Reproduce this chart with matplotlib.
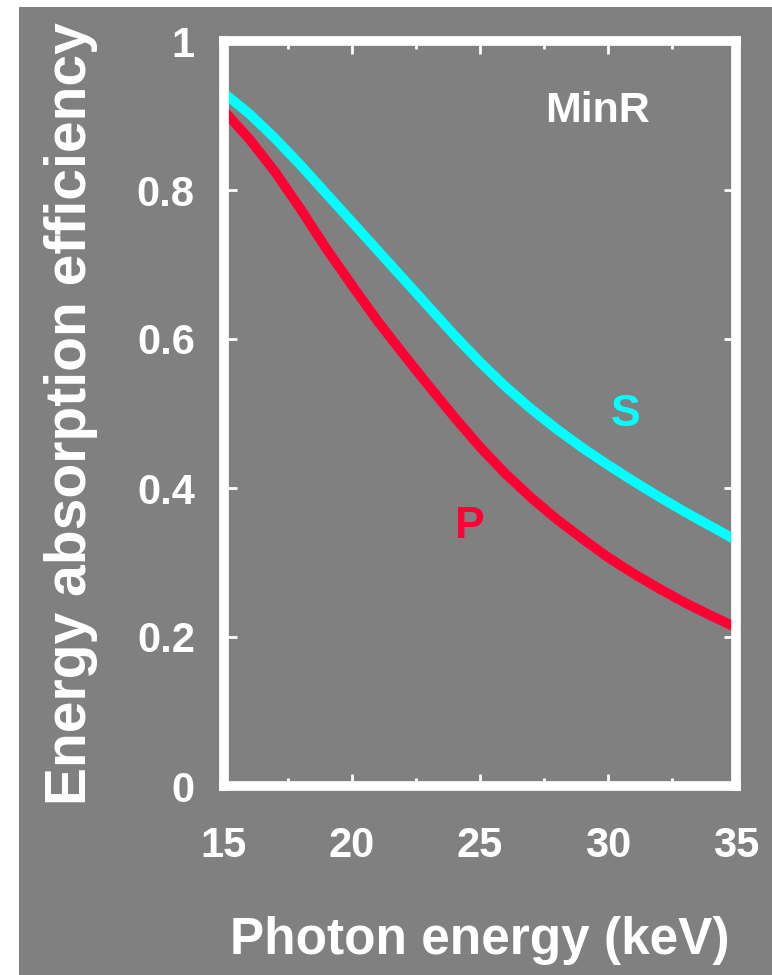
"""Energy absorption efficiency of MinR screen, P and S curves."""

import matplotlib
matplotlib.use("Agg")
import matplotlib.pyplot as plt
from matplotlib.patches import Rectangle
from matplotlib.ticker import MultipleLocator

# --- data ------------------------------------------------------------------
energy_kev = [15, 16, 17, 18, 19, 20, 21, 22, 23, 24, 25,
              26, 27, 28, 29, 30, 31, 32, 33, 34, 35]
eff_s = [0.930, 0.902, 0.869, 0.833, 0.795, 0.757, 0.719, 0.681, 0.643,
         0.605, 0.569, 0.536, 0.506, 0.479, 0.454, 0.431, 0.409, 0.388,
         0.368, 0.349, 0.330]
eff_p = [0.906, 0.868, 0.824, 0.774, 0.721, 0.672, 0.624, 0.580, 0.537,
         0.495, 0.455, 0.419, 0.387, 0.358, 0.332, 0.307, 0.285, 0.265,
         0.246, 0.229, 0.213]

BG = "#808080"
CYAN = "#00FFFF"
RED = "#FF0033"

plt.rcParams["font.family"] = ["Liberation Sans", "DejaVu Sans"]
plt.rcParams["font.weight"] = "bold"

fig = plt.figure(figsize=(7.72, 9.75), dpi=100, facecolor="white")
# grey panel, leaving the thin white strip on the left and top
fig.patches.append(Rectangle((19 / 772, 0), 1, (975 - 7) / 975,
                             transform=fig.transFigure, facecolor=BG,
                             edgecolor="none", zorder=-10))

ax = fig.add_axes([224 / 772, (975 - 786) / 975, 512 / 772, 745 / 975])
ax.set_facecolor(BG)

ax.plot(energy_kev, eff_s, color=CYAN, lw=7, solid_capstyle="round",
        solid_joinstyle="round", clip_on=False, zorder=3)
ax.plot(energy_kev, eff_p, color=RED, lw=7, solid_capstyle="round",
        solid_joinstyle="round", clip_on=False, zorder=3)

ax.set_xlim(15, 35)
ax.set_ylim(0, 1)
ax.xaxis.set_major_locator(MultipleLocator(5))
ax.xaxis.set_minor_locator(MultipleLocator(2.5))
ax.set_yticks([0, 0.2, 0.4, 0.6, 0.8, 1])
ax.set_yticklabels(["0", "0.2", "0.4", "0.6", "0.8", "1"])

for side in ax.spines.values():
    side.set_color("white")
    side.set_linewidth(7)
    side.set_capstyle("projecting")
    side.set_zorder(4)

ax.tick_params(which="both", direction="in", colors="white",
               top=True, right=True)
ax.tick_params(which="major", length=9, width=2, labelsize=30, pad=21)
ax.tick_params(which="minor", length=6, width=2)
ax.tick_params(axis="x", which="major", pad=29)
for lab in ax.get_xticklabels() + ax.get_yticklabels():
    lab.set_fontweight("bold")

ax.set_xlabel("Photon energy (keV)", fontsize=37, fontweight="bold",
              color="white", labelpad=36)
ax.set_ylabel("Energy absorption efficiency", fontsize=41,
              fontweight="bold", color="white", labelpad=28)

ax.text(29.6, 0.906, "MinR", color="white", fontsize=31,
        fontweight="bold", ha="center", va="center")
ax.text(30.7, 0.498, "S", color=CYAN, fontsize=32, fontweight="bold",
        ha="center", va="center")
ax.text(24.6, 0.348, "P", color=RED, fontsize=32, fontweight="bold",
        ha="center", va="center")

fig.savefig("out.png", dpi=100, facecolor=fig.get_facecolor())
